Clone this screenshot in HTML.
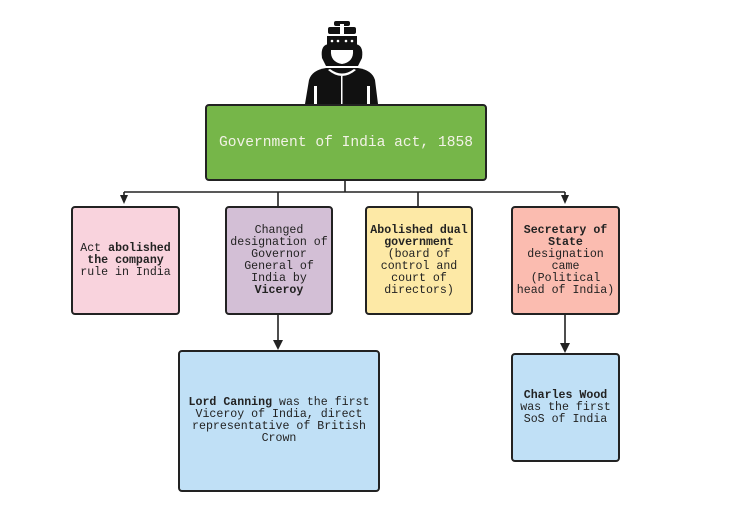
<!DOCTYPE html>
<html><head><meta charset="utf-8"><style>
body{margin:0;width:733px;height:510px;background:#fff;position:relative;overflow:hidden;font-family:"Liberation Mono",monospace;}
.b{position:absolute;border:2px solid #222;border-radius:4px;box-sizing:border-box;display:flex;align-items:center;justify-content:center;text-align:center;font-size:11.6px;line-height:12px;color:#222;padding:0 1px;}
b{font-weight:bold;}
</style></head><body>
<svg width="733" height="510" style="position:absolute;left:0;top:0">
<g fill="#111">
<rect x="334" y="21" width="16" height="5" rx="2"/>
<rect x="328" y="27" width="28" height="7" rx="2"/>
<rect x="340" y="24" width="4" height="14" fill="#fff"/>
<rect x="327" y="36" width="30" height="11"/>
<path d="M322 58 Q320 44 330 44 L354 44 Q364 44 362 58 L358 66 L326 66 Z"/>
<path d="M305 104 L309 80 Q312 70 326 68 L358 68 Q372 70 375 80 L378 104 Z"/>
</g>
<g fill="#fff">
<circle cx="332" cy="41" r="1.3"/><circle cx="338" cy="41" r="1.3"/><circle cx="346" cy="41" r="1.3"/><circle cx="352" cy="41" r="1.3"/>
<path d="M331 50 L353 50 Q354 62 342 64 Q330 62 331 50 Z"/>
<path d="M328 70 Q342 82 356 70 L354 69 Q342 78 330 69 Z"/>
<rect x="314" y="86" width="3" height="18"/><rect x="367" y="86" width="3" height="18"/>
<rect x="341" y="76" width="1.5" height="28"/>
</g>
<g stroke="#222" stroke-width="1.6" fill="none">
<path d="M345 180 V192 M124 192 H565 M124 192 V198 M565 192 V198 M278 192 V206 M418 192 V206"/>
<path d="M278 314 V342 M565 314 V345"/>
</g>
<g fill="#222">
<path d="M120 195 L128 195 L124 204 Z"/><path d="M561 195 L569 195 L565 204 Z"/>
<path d="M273 340 L283 340 L278 350 Z"/><path d="M560 343 L570 343 L565 353 Z"/>
</g>
</svg>
<div class="b" style="left:205px;top:104px;width:282px;height:77px;background:#76b649;color:#f2f2e6;font-size:14.6px;">Government of India act, 1858</div>
<div class="b" style="left:71px;top:206px;width:109px;height:109px;background:#f9d3dd;"><div>Act <b>abolished the company</b> rule in India</div></div>
<div class="b" style="left:225px;top:206px;width:108px;height:109px;background:#d3bfd6;"><div>Changed designation of Governor General of India by <b>Viceroy</b></div></div>
<div class="b" style="left:365px;top:206px;width:108px;height:109px;background:#fde9a6;"><div><b>Abolished dual government</b> (board of control and court of directors)</div></div>
<div class="b" style="left:511px;top:206px;width:109px;height:109px;background:#fbbcb0;"><div><b>Secretary of State</b> designation came (Political head of India)</div></div>
<div class="b" style="left:178px;top:350px;width:202px;height:142px;background:#c0e0f6;padding:0 4px;"><div><b>Lord Canning</b> was the first Viceroy of India, direct representative of British Crown</div></div>
<div class="b" style="left:511px;top:353px;width:109px;height:109px;background:#c0e0f6;"><div><b>Charles Wood</b> was the first SoS of India</div></div>
</body></html>
